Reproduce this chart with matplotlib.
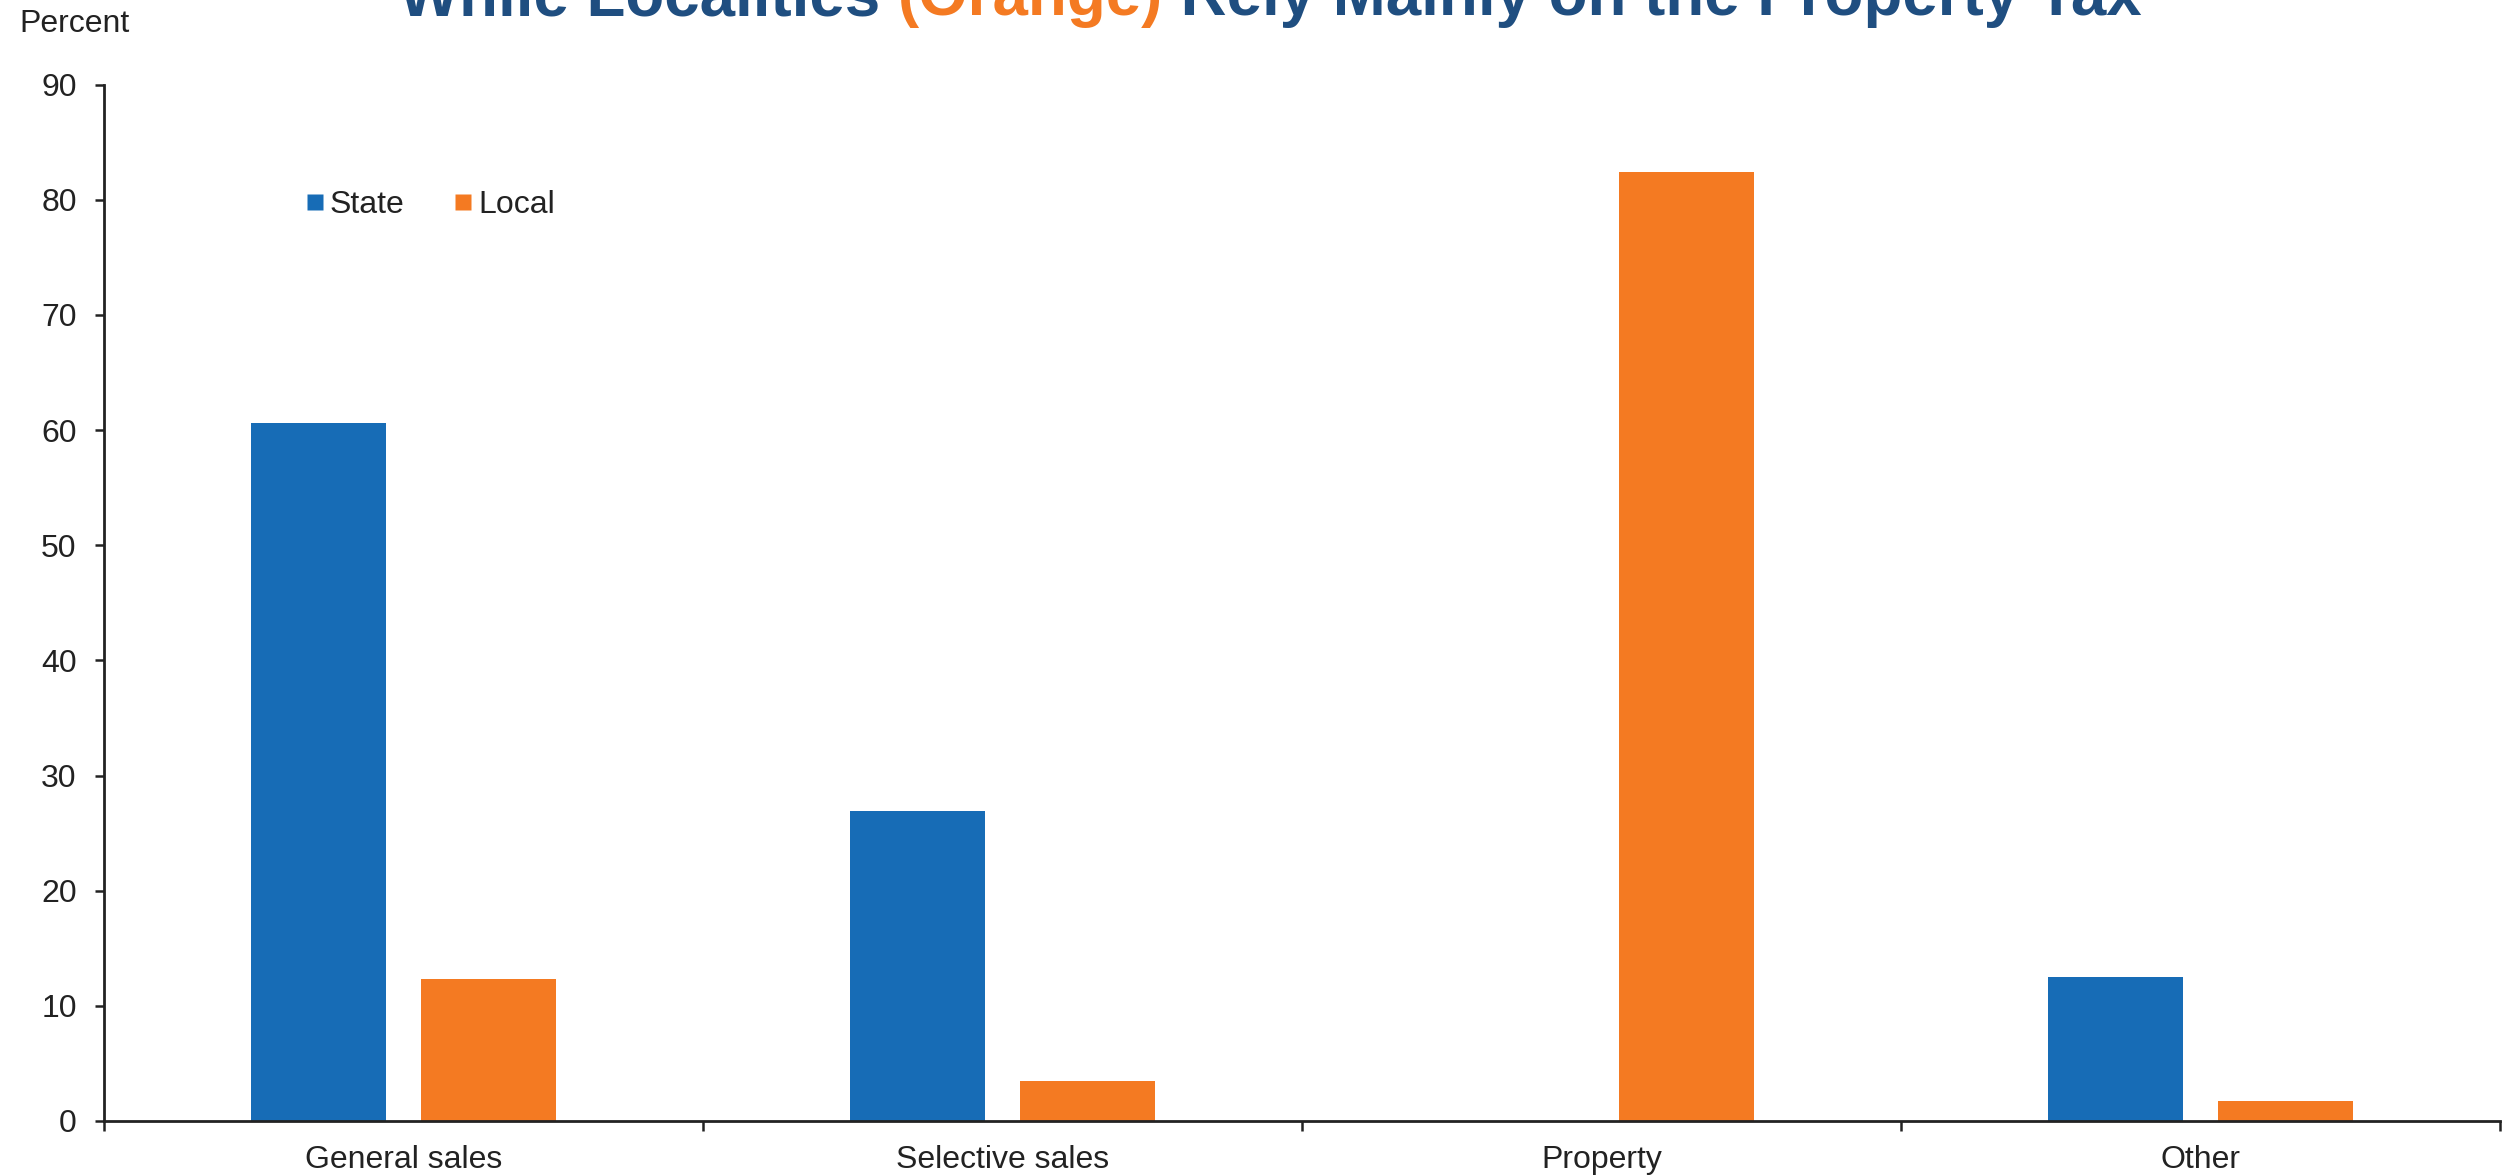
import matplotlib
matplotlib.use("Agg")
import matplotlib.pyplot as plt
import numpy as np
from matplotlib.lines import Line2D

categories = ["General sales", "Selective sales", "Property", "Other"]
state_values = [60.6, 26.9, 0.0, 12.5]
local_values = [12.3, 3.5, 82.4, 1.7]
series_names = ["State", "Local"]
yticks = [0, 10, 20, 30, 40, 50, 60, 70, 80, 90]
title_parts = [("While Localities ", "#1F4E80"), ("(Orange)", "#F47A22"),
               (" Rely Mainly on the Property Tax", "#1F4E80")]

BLUE = "#176CB6"
ORANGE = "#F47A22"
TXT = "#222222"
FS = 23

plt.rcParams['font.family'] = ['Liberation Sans', 'DejaVu Sans']

W, H = 2509, 1175
fig = plt.figure(figsize=(W / 100, H / 100), dpi=100)
ax = fig.add_axes([104 / W, 1 - 1121 / H, (2500 - 104) / W, (1121 - 84.5) / H])

x = np.arange(len(categories))
bw = 0.225
off = 0.1425
ax.bar(x - off, state_values, width=bw, color=BLUE, label=series_names[0])
ax.bar(x + off, local_values, width=bw, color=ORANGE, label=series_names[1])

ax.set_xlim(-0.5, len(categories) - 0.5)
ax.set_ylim(0, 90)
ax.set_yticks(yticks)
ax.tick_params(axis='y', direction='out', length=6.7, width=1.8, colors=TXT,
               labelsize=FS, pad=13)
ax.set_xticks(np.arange(-0.5, len(categories), 1.0))
ax.set_xticklabels([])
ax.set_xticks(x, minor=True)
ax.set_xticklabels(categories, minor=True)
ax.tick_params(axis='x', which='major', direction='out', length=7, width=1.8, colors=TXT)
ax.tick_params(axis='x', which='minor', length=0, labelsize=FS, pad=17, colors=TXT)

for s in ['top', 'right']:
    ax.spines[s].set_visible(False)
for s in ['left', 'bottom']:
    ax.spines[s].set_linewidth(2.0)
    ax.spines[s].set_color(TXT)

handles = [Line2D([], [], marker='s', linestyle='none', markersize=12.2,
                  markerfacecolor=c, markeredgecolor='none') for c in (BLUE, ORANGE)]
ax.legend(handles, series_names, loc='center left',
          bbox_to_anchor=(306 / W, 1 - 205 / H), bbox_transform=fig.transFigure,
          ncol=2, frameon=False, fontsize=FS, handlelength=0.55, handletextpad=0.2,
          columnspacing=1.55, borderpad=0, borderaxespad=0, labelcolor=TXT)

fig.text(19 / W, 1 - 32 / H, "Percent", fontsize=FS, color=TXT, va='baseline', ha='left')

# Title made of coloured pieces, partially cut off at the top (as in the reference)
fig.canvas.draw()
renderer = fig.canvas.get_renderer()
pieces = []
for txt, col in title_parts:
    t = fig.text(0, 1 - 15 / H, txt, fontsize=45.8, fontweight='bold', color=col,
                 va='baseline', ha='left')
    pieces.append(t)
widths = [p.get_window_extent(renderer).width for p in pieces]
total = sum(widths)
start = 1270 - total / 2
for p, w in zip(pieces, widths):
    p.set_x(start / W)
    start += w

fig.savefig("out.png", dpi=100)
